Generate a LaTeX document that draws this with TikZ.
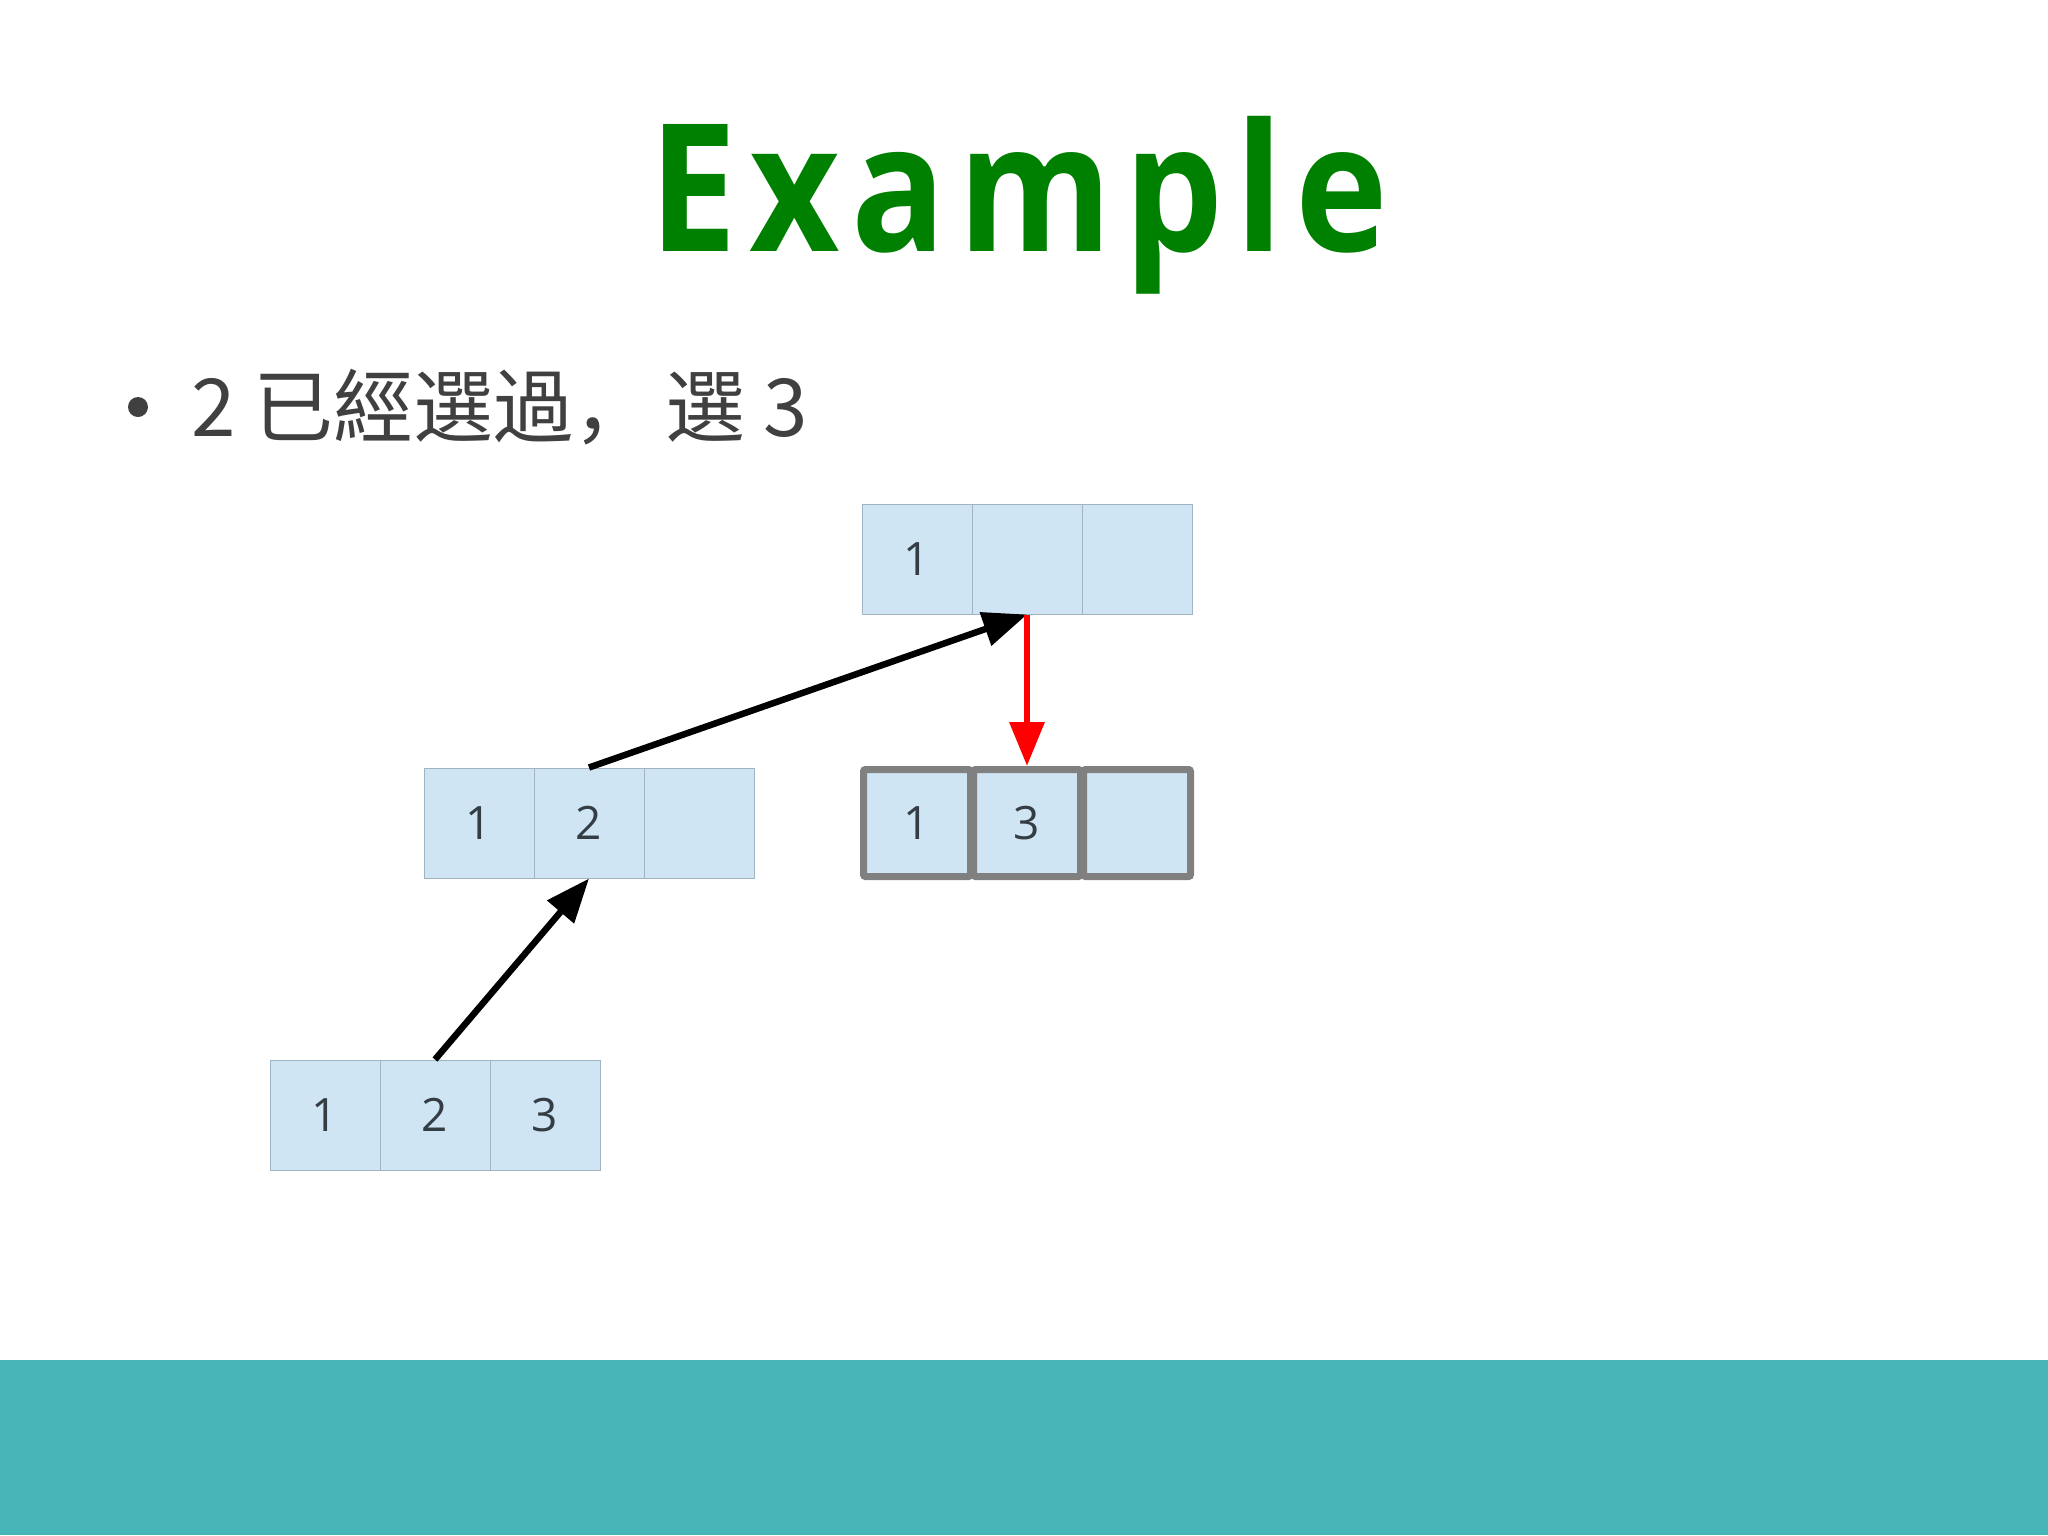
\documentclass[tikz,border=0pt]{standalone}
\usepackage{fontspec}
\usepackage{tikz}
\usetikzlibrary{arrows.meta}
\usetikzlibrary{positioning}
\setmainfont{Open Sans}
\newfontfamily\titlefont{Open Sans}[FakeStretch=0.88,LetterSpace=6.8]
\newfontfamily\cjk{Noto Sans CJK SC}
\definecolor{titregreen}{RGB}{0,128,0}
\definecolor{puce}{RGB}{64,64,64}
\definecolor{caseblue}{RGB}{207,229,243}
\definecolor{casedraw}{RGB}{160,180,195}
\definecolor{casetext}{RGB}{52,60,68}
\definecolor{bande}{RGB}{72,182,184}

\begin{document}
\begin{tikzpicture}[x=1pt,y=-1pt]
\tikzstyle{case}=[
        draw=casedraw,
        line width=1pt,
        fill=caseblue,
        minimum size=110pt,
        inner sep=0pt,
        text=casetext,
        font=\fontsize{46}{50}\selectfont
]
\tikzstyle{choisi}=[case,draw=gray,line width=7pt,rounded corners=2pt,minimum size=107pt]
%styledesflèches
\tikzstyle{suite}=[-{Triangle[length=44pt,width=34pt]},line width=6.5pt]
\tikzstyle{rouge}=[suite,red]
\useasboundingbox (0,0) rectangle (2048,1535);
\fill[white] (0,0) rectangle (2048,1535);
\fill[bande] (0,1360) rectangle (2048,1535);
%titre
\node[anchor=base,inner sep=0pt,text=titregreen,font=\titlefont\bfseries\fontsize{178}{200}\selectfont] (titre) at (1019,251) {Example};
\fill[puce] (138,407) circle (10);
\node[anchor=base west,inner sep=0pt,text=puce,font=\cjk\fontsize{80}{90}\selectfont] (ligne) at (191,436) {2 已經選過，\hspace{-6pt} 選 3};
%placementdesnœuds
\node[case] (t1) at (917,559) {1};
\node[case] (t2) at (1027,559) {};
\node[case] (t3) at (1137,559) {};
\node[case] (m1) at (479,823) {1};
\node[case] (m2) at (589,823) {2};
\node[case] (m3) at (699,823) {};
\node[choisi] (r1) at (917,823) {1};
\node[choisi] (r2) at (1027,823) {3};
\node[choisi] (r3) at (1137,823) {};
\node[case] (b1) at (325,1115) {1};
\node[case] (b2) at (435,1115) {2};
\node[case] (b3) at (545,1115) {3};
%Placementdesflèches
\draw[suite] (b2.north) -- (m2.south);
\draw[suite] (m2.north) -- (t2.south);
\draw[rouge] (t2.south) -- (r2.north);
\end{tikzpicture}
\end{document}
